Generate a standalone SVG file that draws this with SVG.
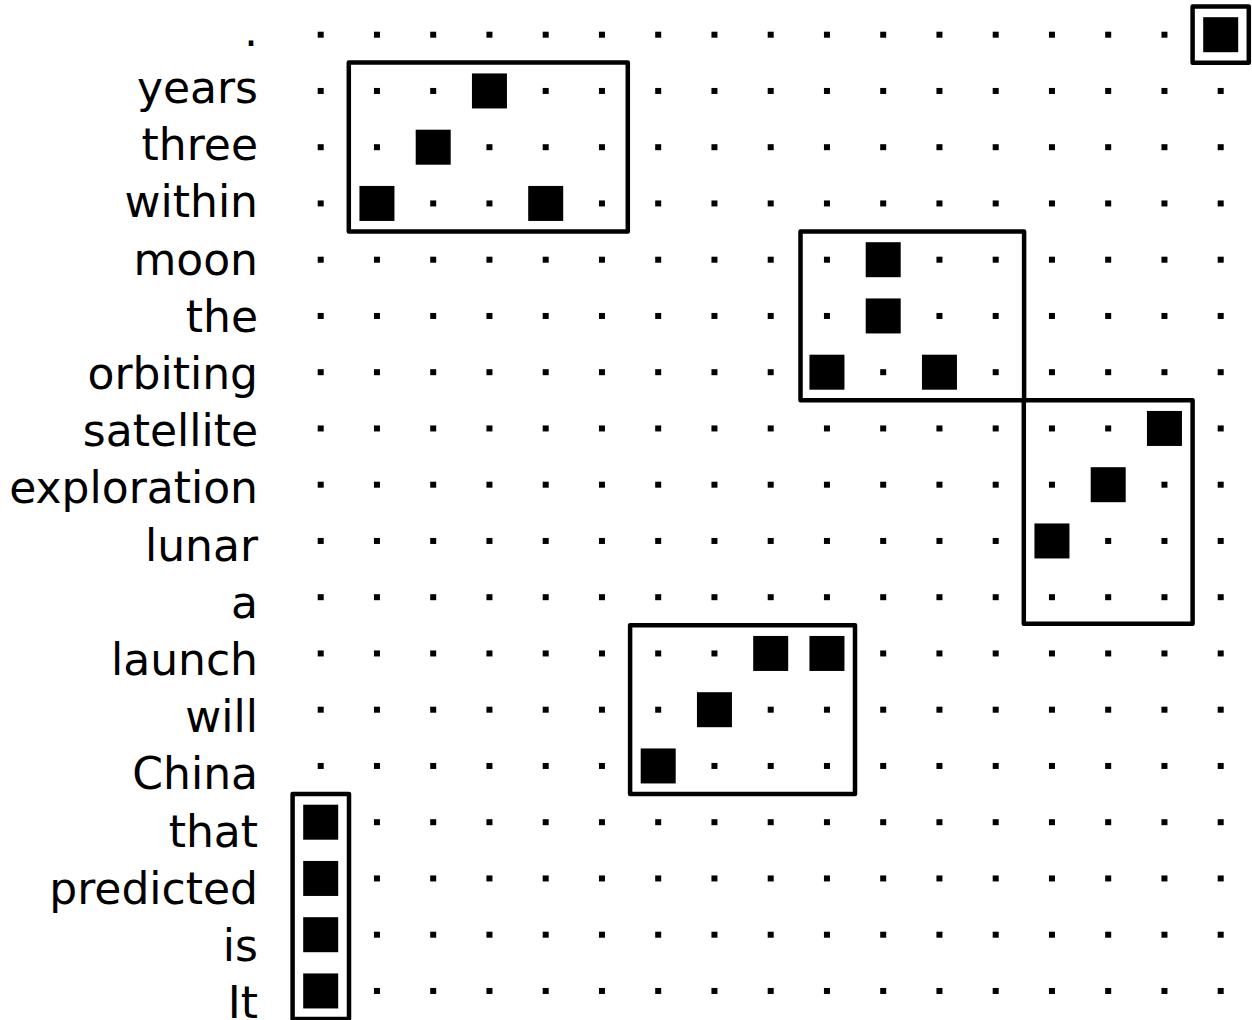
<svg xmlns="http://www.w3.org/2000/svg" xmlns:xlink="http://www.w3.org/1999/xlink" width="1252" height="1020" viewBox="0 0 1252 1020">
<style>
.lbl{font-family:"DejaVu Sans","Liberation Sans",sans-serif;font-size:44px;fill:#000;text-anchor:end}
.box{fill:none;stroke:#000;stroke-width:4.5;stroke-linejoin:round;stroke-linecap:round}
</style>
<defs>
<rect id="dot" x="-3" y="-3" width="6" height="6" fill="#000"/>
<rect id="cell" x="-17.5" y="-17.5" width="35" height="35" fill="#000"/>
<g id="dotrow">
<use href="#dot" x="320.7"/><use href="#dot" x="376.95"/><use href="#dot" x="433.2"/><use href="#dot" x="489.45"/><use href="#dot" x="545.7"/><use href="#dot" x="601.95"/><use href="#dot" x="658.2"/><use href="#dot" x="714.45"/><use href="#dot" x="770.7"/><use href="#dot" x="826.95"/><use href="#dot" x="883.2"/><use href="#dot" x="939.45"/><use href="#dot" x="995.7"/><use href="#dot" x="1051.95"/><use href="#dot" x="1108.2"/><use href="#dot" x="1164.45"/><use href="#dot" x="1220.7"/>
</g>
</defs>
<rect width="1252" height="1020" fill="#fff"/>
<g id="labels">
<text class="lbl" x="258" y="45.7">.</text>
<text class="lbl" x="258" y="102.9">years</text>
<text class="lbl" x="258" y="160.1">three</text>
<text class="lbl" x="258" y="217.3">within</text>
<text class="lbl" x="258" y="274.5">moon</text>
<text class="lbl" x="258" y="331.7">the</text>
<text class="lbl" x="258" y="388.9">orbiting</text>
<text class="lbl" x="258" y="446.1">satellite</text>
<text class="lbl" x="258" y="503.3">exploration</text>
<text class="lbl" x="258" y="560.5">lunar</text>
<text class="lbl" x="258" y="617.7">a</text>
<text class="lbl" x="258" y="674.9">launch</text>
<text class="lbl" x="258" y="732.1">will</text>
<text class="lbl" x="258" y="789.3">China</text>
<text class="lbl" x="258" y="846.5">that</text>
<text class="lbl" x="258" y="903.7">predicted</text>
<text class="lbl" x="258" y="960.9">is</text>
<text class="lbl" x="258" y="1018.1">It</text>
</g>
<g id="dots">
<use href="#dotrow" y="34.7"/><use href="#dotrow" y="90.95"/><use href="#dotrow" y="147.2"/><use href="#dotrow" y="203.45"/><use href="#dotrow" y="259.7"/><use href="#dotrow" y="315.95"/><use href="#dotrow" y="372.2"/><use href="#dotrow" y="428.45"/><use href="#dotrow" y="484.7"/><use href="#dotrow" y="540.95"/><use href="#dotrow" y="597.2"/><use href="#dotrow" y="653.45"/><use href="#dotrow" y="709.7"/><use href="#dotrow" y="765.95"/><use href="#dotrow" y="822.2"/><use href="#dotrow" y="878.45"/><use href="#dotrow" y="934.7"/><use href="#dotrow" y="990.95"/>
</g>
<g id="cells">
<use href="#cell" x="1220.7" y="34.7"/>
<use href="#cell" x="489.45" y="90.95"/>
<use href="#cell" x="433.2" y="147.2"/>
<use href="#cell" x="376.95" y="203.45"/><use href="#cell" x="545.7" y="203.45"/>
<use href="#cell" x="883.2" y="259.7"/>
<use href="#cell" x="883.2" y="315.95"/>
<use href="#cell" x="826.95" y="372.2"/><use href="#cell" x="939.45" y="372.2"/>
<use href="#cell" x="1164.45" y="428.45"/>
<use href="#cell" x="1108.2" y="484.7"/>
<use href="#cell" x="1051.95" y="540.95"/>
<use href="#cell" x="770.7" y="653.45"/><use href="#cell" x="826.95" y="653.45"/>
<use href="#cell" x="714.45" y="709.7"/>
<use href="#cell" x="658.2" y="765.95"/>
<use href="#cell" x="320.7" y="822.2"/><use href="#cell" x="320.7" y="878.45"/><use href="#cell" x="320.7" y="934.7"/><use href="#cell" x="320.7" y="990.95"/>
</g>
<g id="boxes">
<rect id="boxA" class="box" x="348.8" y="62.6" width="279" height="168.8"/>
<rect id="boxB" class="box" x="800.5" y="231.6" width="223.6" height="168.7"/>
<rect id="boxC" class="box" x="1023.8" y="400.3" width="168.8" height="223.5"/>
<rect id="boxD" class="box" x="630.1" y="625.3" width="224.9" height="168.7"/>
<rect id="boxE" class="box" x="292.6" y="794.1" width="56.4" height="224.9"/>
<rect id="boxF" class="box" x="1192.6" y="6.6" width="56.2" height="56.2"/>
</g>
</svg>
